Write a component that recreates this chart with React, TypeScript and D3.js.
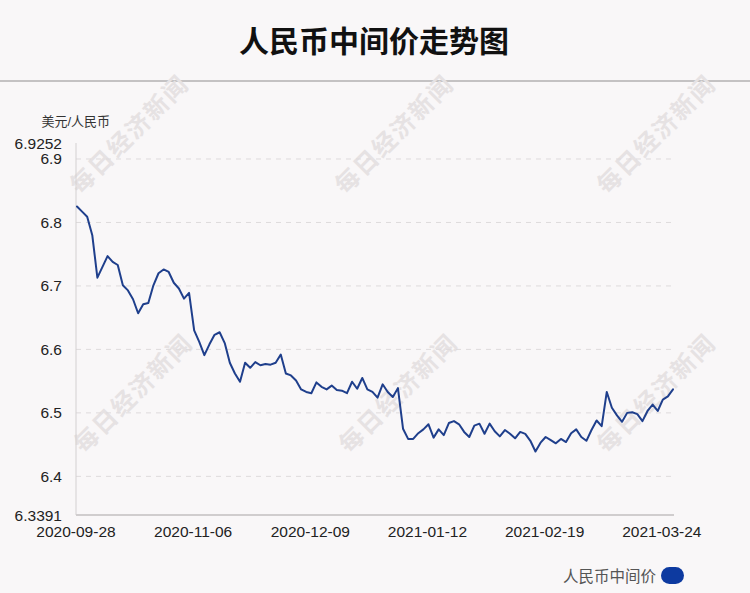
import React from "react";
import * as d3 from "d3";

const dates: string[] = [
  "2020-09-28","2020-09-29","2020-09-30","2020-10-09","2020-10-12","2020-10-13","2020-10-14","2020-10-15","2020-10-16",
  "2020-10-19","2020-10-20","2020-10-21","2020-10-22","2020-10-23","2020-10-26","2020-10-27","2020-10-28","2020-10-29","2020-10-30",
  "2020-11-02","2020-11-03","2020-11-04","2020-11-05","2020-11-06","2020-11-09","2020-11-10","2020-11-11","2020-11-12","2020-11-13",
  "2020-11-16","2020-11-17","2020-11-18","2020-11-19","2020-11-20","2020-11-23","2020-11-24","2020-11-25","2020-11-26","2020-11-27",
  "2020-11-30","2020-12-01","2020-12-02","2020-12-03","2020-12-04","2020-12-07","2020-12-08","2020-12-09","2020-12-10","2020-12-11",
  "2020-12-14","2020-12-15","2020-12-16","2020-12-17","2020-12-18","2020-12-21","2020-12-22","2020-12-23","2020-12-24","2020-12-25",
  "2020-12-28","2020-12-29","2020-12-30","2020-12-31","2021-01-04","2021-01-05","2021-01-06","2021-01-07","2021-01-08",
  "2021-01-11","2021-01-12","2021-01-13","2021-01-14","2021-01-15","2021-01-18","2021-01-19","2021-01-20","2021-01-21","2021-01-22",
  "2021-01-25","2021-01-26","2021-01-27","2021-01-28","2021-01-29","2021-02-01","2021-02-02","2021-02-03","2021-02-04","2021-02-05",
  "2021-02-08","2021-02-09","2021-02-10","2021-02-18","2021-02-19","2021-02-22","2021-02-23","2021-02-24","2021-02-25","2021-02-26",
  "2021-03-01","2021-03-02","2021-03-03","2021-03-04","2021-03-05","2021-03-08","2021-03-09","2021-03-10","2021-03-11","2021-03-12",
  "2021-03-15","2021-03-16","2021-03-17","2021-03-18","2021-03-19","2021-03-22","2021-03-23","2021-03-24","2021-03-25","2021-03-26",
];

const rates: number[] = [
  6.8252, 6.817, 6.809, 6.78, 6.713, 6.73, 6.747, 6.738, 6.733,
  6.701, 6.693, 6.679, 6.657, 6.671, 6.673, 6.701, 6.72, 6.726, 6.722,
  6.705, 6.696, 6.68, 6.689, 6.63, 6.612, 6.591, 6.608, 6.623, 6.627,
  6.61, 6.579, 6.562, 6.549, 6.579, 6.571, 6.58, 6.575, 6.577, 6.576,
  6.579, 6.592, 6.562, 6.559, 6.551, 6.537, 6.533, 6.531, 6.548, 6.541,
  6.537, 6.543, 6.536, 6.535, 6.531, 6.549, 6.538, 6.555, 6.537, 6.533,
  6.524, 6.545, 6.533, 6.525, 6.539, 6.475, 6.459, 6.459, 6.468,
  6.474, 6.482, 6.461, 6.474, 6.465, 6.484, 6.487, 6.482, 6.47, 6.462,
  6.48, 6.483, 6.467, 6.483, 6.471, 6.463, 6.473, 6.467, 6.46, 6.47,
  6.467, 6.456, 6.4391, 6.453, 6.462, 6.457, 6.452, 6.459, 6.454, 6.468,
  6.474, 6.462, 6.456, 6.473, 6.488, 6.479, 6.533, 6.508, 6.496, 6.486,
  6.5, 6.501, 6.498, 6.487, 6.503, 6.513, 6.503, 6.521, 6.526, 6.537,
];

const yTicks: number[] = [6.4, 6.5, 6.6, 6.7, 6.8, 6.9];
const xTickLabels: string[] = ["2020-09-28", "2020-11-06", "2020-12-09", "2021-01-12", "2021-02-19", "2021-03-24"];

const title = "人民币中间价走势图";
const unitLabel = "美元/人民币";
const seriesName = "人民币中间价";
const watermark = "每日经济新闻";

const W = 750;
const H = 593;
const left = 76;
const right = 674;
const top = 143;
const bottom = 515;
const FONT = "'Liberation Sans', 'Noto Sans CJK SC', Arial, sans-serif";
const CJK = "'Noto Sans CJK SC', 'Liberation Sans', sans-serif";

export default function App() {
  const yMin = (d3.min(rates) as number) - 0.1;
  const yMax = (d3.max(rates) as number) + 0.1;
  const x = d3.scalePoint<string>().domain(dates).range([left + 1, right - 1]);
  const y = d3.scaleLinear().domain([yMin, yMax]).range([bottom, top]);
  const line = d3
    .line<number>()
    .x((_, i) => x(dates[i]) as number)
    .y((d) => y(d));

  const wmPos: [number, number][] = [
    [128, 133], [393, 133], [655, 133],
    [132, 392], [397, 392], [655, 392],
  ];

  return (
    <div style={{ width: W, height: H }}>
      <style>{`body{margin:0;}`}</style>
      <svg width={W} height={H} style={{ display: "block", background: "#f9f7f8" }}>
        <rect x={0} y={0} width={W} height={H} fill="#f9f7f8" />
        {/* title */}
        <text x={374} y={39} textAnchor="middle" dominantBaseline="central"
          fontFamily={CJK} fontWeight="bold" fontSize={30} fill="#111">{title}</text>
        <line x1={0} x2={W} y1={81} y2={81} stroke="#c4c2c3" strokeWidth={2} />

        {/* watermarks */}
        {wmPos.map(([cx, cy], i) => (
          <text key={i} x={cx} y={cy} textAnchor="middle" dominantBaseline="central"
            transform={`rotate(-45 ${cx} ${cy})`} fontFamily={CJK} fontWeight="bold"
            fontSize={24} letterSpacing={2} fill="#e6e2e3">{watermark}</text>
        ))}

        {/* grid */}
        {yTicks.map((t) => (
          <line key={t} x1={left} x2={right} y1={y(t)} y2={y(t)} stroke="#dedbdc"
            strokeWidth={1} strokeDasharray="5,5" />
        ))}
        {/* axes */}
        <line x1={left} x2={left} y1={top} y2={bottom} stroke="#d3d0d1" strokeWidth={1} />
        <line x1={left} x2={right} y1={bottom} y2={bottom} stroke="#d0cdce" strokeWidth={2} />

        {/* y labels */}
        {[yMax, ...yTicks, yMin].map((t, i) => (
          <text key={i} x={62} y={y(t)} textAnchor="end" dominantBaseline="central"
            fontFamily={FONT} fontSize={15.5} fill="#222">
            {i === 0 || i === yTicks.length + 1 ? t.toFixed(4) : String(t)}
          </text>
        ))}
        <text x={110} y={121} textAnchor="end" dominantBaseline="central"
          fontFamily={FONT} fontSize={13} fill="#333">{unitLabel}</text>

        {/* x labels */}
        {xTickLabels.map((d) => (
          <text key={d} x={(x(d) as number) - 1} y={531} textAnchor="middle" dominantBaseline="central"
            fontFamily={FONT} fontSize={15.5} fill="#222">{d}</text>
        ))}

        {/* series */}
        <path d={line(rates) as string} fill="none" stroke="#1f3f8c" strokeWidth={2}
          strokeLinejoin="round" strokeLinecap="round" />

        {/* legend */}
        <text x={656} y={575} textAnchor="end" dominantBaseline="central"
          fontFamily={CJK} fontSize={15.5} fill="#555">{seriesName}</text>
        <rect x={661} y={567} width={23} height={17} rx={8.5} ry={8.5} fill="#0d3aa0" />
      </svg>
    </div>
  );
}
